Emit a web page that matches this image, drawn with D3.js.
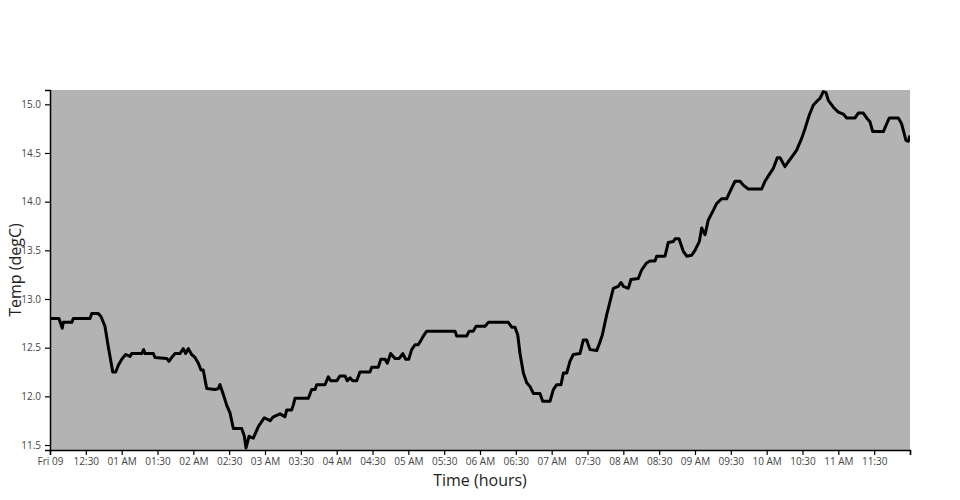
<!DOCTYPE html>
<html><head><meta charset="utf-8">
<script src="https://cdn.jsdelivr.net/npm/d3@7"></script>
<style>body{margin:0;background:#fff;} text{font-family:"Open Sans",sans-serif;}</style>
</head><body>
<svg id="chart" width="960" height="500"></svg>
<script>
// minutes after midnight, Fri 09
const minutes = [0,7.5,10.3,11.1,18.2,19.5,33.5,34.9,40.4,42.7,46.0,48.8,51.7,52.5,55.0,57.2,60.5,63.4,67.0,68.4,76.8,78.4,79.5,86.5,87.9,97.7,99.6,101.9,104.7,108.8,111.6,113.6,115.8,118.6,121.4,124.2,126.4,128.3,131.2,138.1,140.9,142.3,145.1,147.9,150.7,153.5,160.5,162.7,164.1,166.6,170.2,174.4,179.4,184.2,187.0,192.6,196.7,198.2,202.3,203.7,205.1,216.3,219.1,221.9,223.3,230.2,233.0,235.0,240.0,242.8,247.0,248.9,251.2,253.4,256.8,259.5,267.9,269.3,274.9,276.9,280.5,282.4,285.2,288.8,292.4,295.3,297.8,300.3,302.8,305.6,308.3,310.3,313.1,315.4,339.1,340.5,348.8,351.0,354.4,356.7,364.2,367.0,383.7,386.6,389.3,391.6,393.5,396.3,399.1,401.9,404.7,410.2,412.5,418.6,421.4,424.2,427.8,429.8,432.6,435.3,438.1,443.7,446.5,449.3,452.1,457.7,460.5,462.4,466.1,468.8,471.6,475.8,478.1,480.0,484.2,486.4,492.5,495.4,499.5,502.3,506.5,507.9,514.9,517.6,521.9,523.3,526.6,530.2,533.1,537.2,540.0,543.6,545.6,548.4,551.1,555.3,558.1,562.3,566.5,570.7,573.5,577.7,580.4,584.6,595.8,598.6,602.8,605.5,608.9,611.2,615.3,618.1,622.3,625.1,629.3,632.1,635.7,639.0,641.9,644.6,647.4,649.7,651.6,655.8,660.0,664.2,667.0,674.0,676.7,680.9,683.7,686.5,688.8,697.7,700.5,702.7,710.2,713.0,716.6,718.6,720];
const temps = [12.80,12.80,12.70,12.76,12.76,12.80,12.80,12.85,12.85,12.82,12.72,12.51,12.31,12.25,12.25,12.32,12.39,12.43,12.41,12.44,12.44,12.48,12.44,12.44,12.40,12.39,12.36,12.40,12.44,12.44,12.49,12.44,12.49,12.43,12.40,12.34,12.27,12.27,12.08,12.07,12.08,12.12,12.02,11.91,11.83,11.67,11.67,11.59,11.47,11.59,11.57,11.69,11.78,11.75,11.79,11.82,11.79,11.86,11.86,11.91,11.98,11.98,12.07,12.07,12.12,12.12,12.20,12.16,12.16,12.21,12.21,12.16,12.19,12.16,12.16,12.25,12.25,12.30,12.30,12.38,12.38,12.34,12.44,12.39,12.39,12.44,12.38,12.38,12.48,12.53,12.53,12.57,12.63,12.67,12.67,12.62,12.62,12.67,12.67,12.72,12.72,12.76,12.76,12.71,12.71,12.63,12.44,12.24,12.14,12.10,12.03,12.03,11.95,11.95,12.07,12.12,12.12,12.24,12.24,12.36,12.43,12.44,12.58,12.58,12.48,12.47,12.56,12.63,12.84,12.97,13.11,13.13,13.17,13.13,13.11,13.20,13.21,13.30,13.37,13.39,13.39,13.44,13.44,13.58,13.59,13.62,13.62,13.49,13.44,13.45,13.50,13.59,13.73,13.66,13.81,13.91,13.98,14.03,14.03,14.14,14.21,14.21,14.17,14.13,14.13,14.21,14.29,14.34,14.45,14.45,14.36,14.41,14.48,14.53,14.65,14.75,14.89,14.99,15.03,15.06,15.13,15.12,15.04,14.97,14.92,14.90,14.86,14.86,14.91,14.91,14.86,14.82,14.72,14.72,14.80,14.86,14.86,14.80,14.63,14.62,14.68];
const yTicks = [11.5,12.0,12.5,13.0,13.5,14.0,14.5,15.0];
const yDomain = [11.449, 15.147];
const startDate = new Date(2021, 3, 9, 0, 0);
const endDate = new Date(2021, 3, 9, 12, 0);

const svg = d3.select("#chart");
const m = {l:50, r:50, t:90, b:50};
const W = 960, H = 500;
const x = d3.scaleTime().domain([startDate, endDate]).range([m.l, W - m.r]);
const y = d3.scaleLinear().domain(yDomain).range([H - m.b, m.t]);

svg.append("rect").attr("x", m.l).attr("y", m.t)
  .attr("width", W - m.l - m.r).attr("height", H - m.t - m.b).attr("fill", "#b3b3b3");

const data = minutes.map((mm, i) => ({t: new Date(startDate.getTime() + mm * 60000), v: temps[i]}));

const clip = svg.append("clipPath").attr("id", "clip").append("rect")
  .attr("x", m.l).attr("y", m.t - 2).attr("width", W - m.l - m.r).attr("height", H - m.t - m.b + 4);

svg.append("path").datum(data)
  .attr("clip-path", "url(#clip)")
  .attr("fill", "none").attr("stroke", "#000").attr("stroke-width", 3)
  .attr("stroke-linejoin", "round")
  .attr("d", d3.line().x(d => x(d.t)).y(d => y(d.v)));

const fmt = d => {
  if (d.getHours() === 0 && d.getMinutes() === 0) return d3.timeFormat("%a %d")(d);
  if (d.getMinutes() === 0) return d3.timeFormat("%I %p")(d);
  return d3.timeFormat("%I:%M")(d);
};
const xTickVals = d3.timeMinute.every(30).range(startDate, new Date(endDate.getTime() + 1));
const xAxis = svg.append("g").attr("transform", `translate(0,${H - m.b})`)
  .call(d3.axisBottom(x).tickValues(xTickVals).tickSize(5).tickPadding(3)
    .tickFormat(d => d.getTime() === endDate.getTime() ? "" : fmt(d)));
xAxis.select(".domain").attr("stroke", "#000").attr("stroke-width", 1.5);
xAxis.selectAll(".tick line").attr("stroke", "#000").attr("stroke-width", 1.2);
xAxis.selectAll("text").attr("font-size", 10).attr("fill", "#444").attr("font-family", "Open Sans");

const yAxis = svg.append("g").attr("transform", `translate(${m.l},0)`)
  .call(d3.axisLeft(y).tickValues(yTicks).tickSize(5).tickPadding(4).tickFormat(d3.format(".1f")));
yAxis.select(".domain").attr("stroke", "#000").attr("stroke-width", 1.5);
yAxis.selectAll(".tick line").attr("stroke", "#000").attr("stroke-width", 1.2);
yAxis.selectAll("text").attr("font-size", 10).attr("fill", "#444").attr("font-family", "Open Sans");

svg.append("text").attr("x", (m.l + W - m.r) / 2).attr("y", 486)
  .attr("text-anchor", "middle").attr("font-size", 16).attr("fill", "#222").text("Time (hours)");
svg.append("text").attr("transform", `translate(21,${(m.t + H - m.b) / 2}) rotate(-90)`)
  .attr("text-anchor", "middle").attr("font-size", 16).attr("fill", "#222").text("Temp (degC)");
</script>
</body></html>
